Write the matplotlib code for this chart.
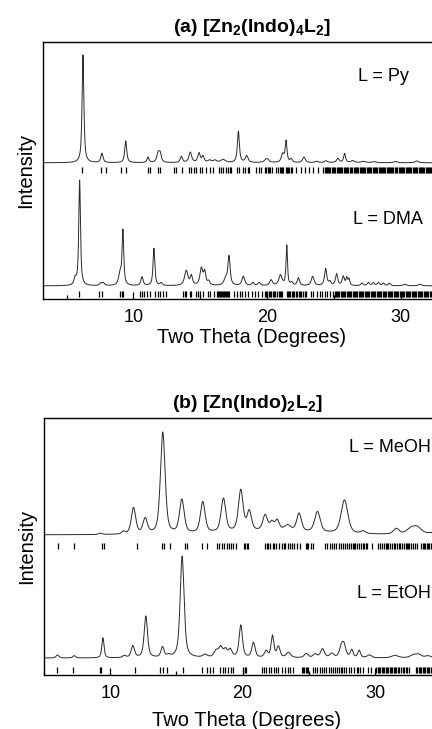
import numpy as np
import matplotlib
matplotlib.use('Agg')
import matplotlib.pyplot as plt
from matplotlib.ticker import MultipleLocator

plt.rcParams['font.family'] = ['Liberation Sans', 'DejaVu Sans']
plt.rcParams['mathtext.fontset'] = 'custom'
plt.rcParams['mathtext.rm'] = 'Liberation Sans'
plt.rcParams['mathtext.bf'] = 'Liberation Sans:bold'

## ---- (a) [Zn2(Indo)4L2] ----
# L = Py : peak position (2theta), height, fwhm
py_pos = [6.22, 7.64, 9.42, 11.09, 11.85, 12.0, 13.58, 14.25, 14.9, 15.2, 15.7, 16.1, 16.7,
          17.85, 18.47, 19.97, 21.17, 21.42, 21.8, 22.76, 23.7, 24.4, 25.3, 25.8, 26.4,
          27.2, 28.0, 29.6, 31.2]
py_hgt = [0.42, 0.036, 0.085, 0.021, 0.036, 0.03, 0.024, 0.04, 0.036, 0.024, 0.009, 0.009, 0.012,
          0.122, 0.026, 0.016, 0.032, 0.082, 0.013, 0.021, 0.005, 0.007, 0.016, 0.035, 0.008,
          0.005, 0.004, 0.005, 0.007]
py_fwhm = [0.16, 0.2, 0.18, 0.18, 0.25, 0.2, 0.2, 0.25, 0.22, 0.2, 0.3, 0.3, 0.4,
           0.18, 0.25, 0.35, 0.25, 0.16, 0.2, 0.25, 0.3, 0.3, 0.25, 0.18, 0.3,
           0.4, 0.4, 0.3, 0.3]
py_ticks = [6.17, 7.59, 7.96, 9.09, 9.46, 11.09, 11.26, 11.83, 12.0, 13.03, 13.2, 13.65, 14.15,
            14.32, 14.5, 14.69, 14.95, 15.14, 15.4, 15.7, 15.94, 16.37, 16.57, 16.69, 16.9,
            17.07, 17.22, 17.3, 17.72, 17.89, 18.22, 18.32, 18.6, 18.68, 19.15, 19.42, 19.52,
            19.84, 19.95, 20.05, 20.15, 20.25, 20.34, 20.64, 20.84, 20.94, 21.04, 21.13, 21.21,
            21.41, 21.5, 21.58, 21.67, 21.76, 21.84, 22.14, 22.52, 22.81, 23.14, 23.46, 23.81,
            24.21, 24.3, 24.38, 24.47, 24.55, 24.66, 24.74, 24.83, 24.92, 25.02, 25.1, 25.2,
            25.28, 25.37, 25.46, 25.55, 25.64, 25.72, 25.81, 25.9, 26.0, 26.08,
            26.22, 26.3, 26.39, 26.48, 26.56, 26.65, 26.74, 26.83, 26.92, 27.0, 27.08, 27.17,
            27.25, 27.33, 27.47, 27.55, 27.64, 27.73, 27.81, 27.9, 27.99, 28.07, 28.16, 28.25,
            28.34, 28.42, 28.51, 28.6, 28.68, 28.77, 28.86, 28.95, 29.03, 29.12, 29.2, 29.29,
            29.37, 29.45, 29.58, 29.67, 29.75, 29.84, 29.93, 30.02, 30.1, 30.19, 30.28, 30.36,
            30.45, 30.54, 30.63, 30.72, 30.8, 30.89, 30.98, 31.07, 31.16, 31.25, 31.33, 31.42,
            31.51, 31.6, 31.68, 31.77, 31.86, 31.95, 32.04, 32.12, 32.21, 32.3, 32.39, 32.48,
            32.57, 32.66, 32.74, 32.83, 32.92, 33.0, 33.1, 33.18, 33.27, 33.36, 33.45, 33.54,
            33.62, 33.71, 33.8, 33.88, 33.97, 34.06, 34.15, 34.24, 34.33, 34.42]

# L = DMA
dma_pos = [5.64, 5.97, 7.55, 7.75, 9.0, 9.21, 10.64, 11.53, 12.08, 13.95, 14.33, 15.08, 15.33,
           15.63, 16.9, 17.15, 18.22, 18.94, 19.4, 20.3, 21.0, 21.47, 21.85, 22.34, 23.41,
           24.38, 24.7, 25.2, 25.7, 25.96, 26.13, 27.1, 27.58, 27.95, 28.33, 28.7, 29.15,
           30.3, 31.44]
dma_hgt = [0.025, 0.41, 0.009, 0.011, 0.045, 0.21, 0.034, 0.145, 0.01, 0.058, 0.036, 0.066, 0.05,
           0.015, 0.025, 0.112, 0.036, 0.012, 0.012, 0.022, 0.04, 0.155, 0.011, 0.03, 0.036,
           0.066, 0.014, 0.045, 0.035, 0.028, 0.024, 0.01, 0.012, 0.011, 0.012, 0.01, 0.01,
           0.006, 0.006]
dma_fwhm = [0.2, 0.15, 0.2, 0.2, 0.25, 0.15, 0.2, 0.16, 0.2, 0.3, 0.2, 0.25, 0.2,
            0.2, 0.3, 0.2, 0.25, 0.2, 0.2, 0.25, 0.3, 0.13, 0.2, 0.2, 0.25,
            0.2, 0.2, 0.2, 0.2, 0.15, 0.15, 0.2, 0.2, 0.2, 0.2, 0.2, 0.2,
            0.3, 0.3]
dma_ticks = [5.94, 7.45, 7.65, 9.0, 9.12, 9.25, 10.5, 10.65, 10.82, 11.0, 11.2, 11.62, 11.8, 12.0,
             12.2, 12.4, 13.7, 13.82, 13.95, 14.2, 14.33, 14.7, 14.85, 15.0, 15.2, 15.6, 15.75,
             16.0, 16.23, 16.3, 16.38, 16.46, 16.54, 16.62, 16.7, 16.78, 16.86, 16.94, 17.02,
             17.1, 17.18, 17.5, 17.75, 17.95, 18.15, 18.35, 18.6, 18.85, 19.1, 19.35, 19.6,
             19.84, 19.93, 20.02, 20.11, 20.2, 20.32, 20.44, 20.53, 20.62, 20.74, 20.86, 20.95,
             21.05, 21.15, 21.47, 21.56, 21.65, 21.74, 21.83, 21.95, 22.05, 22.14, 22.25, 22.36,
             22.45, 22.55, 22.7, 22.8, 22.9, 23.3, 23.45, 23.7, 23.96, 24.08, 24.3, 24.5, 24.7,
             24.96, 25.05, 25.14, 25.23, 25.32, 25.41, 25.5, 25.59, 25.68, 25.77, 25.86, 25.95,
             26.04, 26.13, 26.22, 26.31, 26.4, 26.49, 26.58, 26.67, 26.76, 26.85, 26.94, 27.03,
             27.12, 27.21, 27.3, 27.39, 27.48, 27.57, 27.66, 27.75, 27.84, 27.93, 28.02, 28.11,
             28.2, 28.29, 28.38, 28.47, 28.56, 28.65, 28.74, 28.83, 28.92, 29.01, 29.1, 29.19,
             29.28, 29.37, 29.46, 29.55, 29.64, 29.73, 29.82, 29.91, 30.0, 30.09, 30.18, 30.27,
             30.36, 30.45, 30.54, 30.63, 30.72, 30.81, 30.9, 30.99, 31.08, 31.17, 31.26, 31.35,
             31.44, 31.53, 31.62, 31.71, 31.8, 31.89, 31.98, 32.07, 32.16, 32.25, 32.34, 32.43,
             32.52, 32.61, 32.7, 32.79, 32.88, 32.97, 33.06, 33.15, 33.24, 33.33, 33.42, 33.51,
             33.6, 33.69, 33.78, 33.87, 33.96, 34.05, 34.14, 34.23, 34.32, 34.41]

## ---- (b) [Zn(Indo)2L2] ----
# L = MeOH (last entry: broad amorphous hump under the pattern)
meoh_pos = [9.25, 11.0, 11.76, 12.64, 13.97, 15.41, 16.99, 18.55, 19.86, 20.5, 21.7, 22.2,
            22.6, 23.4, 24.26, 25.65, 27.69, 29.1, 31.6, 32.7, 33.2, 34.2, 22.0]
meoh_hgt = [0.005, 0.01, 0.102, 0.058, 0.395, 0.13, 0.12, 0.13, 0.16, 0.075, 0.06, 0.03,
            0.04, 0.022, 0.07, 0.08, 0.13, 0.01, 0.022, 0.02, 0.025, 0.006, 0.014]
meoh_fwhm = [0.3, 0.3, 0.4, 0.4, 0.42, 0.42, 0.42, 0.42, 0.42, 0.4, 0.42, 0.35,
             0.4, 0.6, 0.42, 0.5, 0.6, 0.4, 0.5, 0.8, 0.8, 0.6, 9.0]
meoh_ticks = [6.02, 7.23, 9.37, 9.5, 12.01, 13.9, 14.08, 14.53, 15.66, 15.79, 16.92, 17.34,
              18.05, 18.25, 18.45, 18.6, 18.8, 18.95, 19.1, 19.3, 19.5, 20.1, 20.2, 20.3, 20.42,
              21.7, 21.85, 21.95, 22.1, 22.3, 22.4, 22.55, 22.75, 22.95, 23.1, 23.2, 23.4, 23.6,
              23.75, 23.9, 24.1, 24.3, 24.75, 24.85, 24.95, 25.2, 25.3,
              26.25, 26.4, 26.6, 26.75, 26.9, 27.05, 27.3, 27.45, 27.6, 27.75, 27.85, 28.0,
              28.15, 28.3, 28.4, 28.5, 28.6, 28.8, 28.95, 29.1, 29.2, 29.3, 29.4, 29.75,
              30.25, 30.4, 30.55, 30.65, 30.8, 30.9, 31.0, 31.15, 31.3, 31.4, 31.5, 31.65, 31.8,
              31.9, 32.0, 32.15, 32.3, 32.4, 32.5, 32.6, 32.75, 32.9, 33.0, 33.15,
              33.5, 33.6, 33.7, 33.8, 33.9, 34.0, 34.1, 34.2, 34.3, 34.4]

# L = EtOH
etoh_pos = [6.02, 7.28, 9.45, 11.06, 11.71, 12.69, 13.95, 14.4, 15.43, 17.17, 18.0, 18.35,
            18.7, 19.06, 19.86, 20.82, 21.77, 22.25, 22.7, 23.46, 24.8, 25.47, 26.03, 26.73,
            27.45, 27.65, 28.24, 28.8, 29.57, 31.5, 32.9, 33.3, 34.0]
etoh_hgt = [0.012, 0.009, 0.078, 0.008, 0.046, 0.162, 0.04, 0.008, 0.395, 0.011, 0.025, 0.038,
            0.028, 0.03, 0.126, 0.058, 0.025, 0.085, 0.042, 0.02, 0.016, 0.014, 0.034, 0.016,
            0.036, 0.045, 0.03, 0.028, 0.011, 0.01, 0.011, 0.012, 0.008]
etoh_fwhm = [0.25, 0.25, 0.2, 0.3, 0.3, 0.3, 0.28, 0.3, 0.35, 0.4, 0.4, 0.35,
             0.3, 0.35, 0.3, 0.3, 0.3, 0.25, 0.3, 0.4, 0.35, 0.35, 0.35, 0.35,
             0.35, 0.35, 0.25, 0.25, 0.4, 0.6, 0.6, 0.5, 0.5]
etoh_ticks = [5.98, 7.18, 9.25, 9.32, 11.89, 13.77, 13.95, 14.28, 15.46, 16.92, 17.3, 17.55,
              17.8, 18.3, 18.5, 18.7, 18.9, 19.1, 19.3, 20.06, 20.16, 20.26,
              21.45, 21.6, 21.8, 22.0, 22.15, 22.35, 22.5, 22.7, 23.0, 23.2, 23.4, 23.6, 23.84,
              24.47, 24.57, 24.67, 24.77, 24.87, 24.97,
              25.3, 25.5, 25.65, 25.85, 26.0, 26.15, 26.3, 26.55, 26.7, 26.85, 27.0, 27.1,
              27.25, 27.4, 27.5, 27.65, 27.8, 28.0, 28.15, 28.4, 28.6, 28.75, 28.9, 29.1,
              29.45, 29.73, 30.1, 30.2, 30.3, 30.4, 30.5, 30.6, 30.7, 30.8, 30.9, 31.0, 31.1,
              31.2, 31.3, 31.4, 31.5, 31.6, 31.7, 31.8, 31.95, 32.1, 32.2, 32.3, 32.45, 32.6,
              33.1, 33.2, 33.3, 33.4, 33.5, 33.6, 33.7, 33.8, 33.9, 34.0, 34.1, 34.2, 34.3, 34.4]


def pattern(x, pos, hgt, fwhm, eta):
    # pseudo-Voigt sum, peak heights
    y = np.zeros_like(x)
    for p, h, w in zip(pos, hgt, fwhm):
        u = (x - p) / w
        y += h * (eta / (1 + 4 * u**2) + (1 - eta) * np.exp(-4 * np.log(2) * u**2))
    return y


lineCol = '#2a2a2a'
fs = 14.5

fig = plt.figure(figsize=(4.32, 7.29), dpi=100)

def setup(ax, xlim, xpad):
    ax.set_xlim(*xlim)
    ax.set_ylim(0, 1)
    ax.set_yticks([])
    ax.xaxis.set_major_locator(MultipleLocator(10))
    ax.xaxis.set_minor_locator(MultipleLocator(5))
    ax.tick_params(axis='x', which='major', direction='in', length=5, width=0.9, labelsize=13, pad=7)
    ax.tick_params(axis='x', which='minor', direction='in', length=3, width=0.9)
    for s in ax.spines.values():
        s.set_linewidth(1.0)
    ax.set_xlabel('Two Theta (Degrees)', fontsize=fs, labelpad=xpad)
    ax.set_ylabel('Intensity', fontsize=fs, labelpad=6)

# panel (a)
axA = fig.add_axes([43/432, (729-299)/729, (461-43)/432, 257/729])
setup(axA, (3.23, 34.51), 1.5)
xa = np.linspace(3.2, 34.6, 4000)
axA.plot(xa, 0.530 + pattern(xa, py_pos, py_hgt, py_fwhm, 0.8), color=lineCol, lw=0.7)
axA.plot(xa, 0.051 + pattern(xa, dma_pos, dma_hgt, dma_fwhm, 0.8), color=lineCol, lw=0.7)
axA.vlines(py_ticks, 0.49, 0.512, color='k', lw=0.9)
axA.vlines(dma_ticks, 0.009, 0.031, color='k', lw=0.9)
axA.text(26.8, 0.864, 'L = Py', fontsize=13, va='center', ha='left')
axA.text(26.43, 0.311, 'L = DMA', fontsize=13, va='center', ha='left')
axA.set_title(r'(a) [Zn$_{\mathbf{2}}$(Indo)$_{\mathbf{4}}$L$_{\mathbf{2}}$]',
              fontsize=14, fontweight='bold', pad=7)

# panel (b)
axB = fig.add_axes([44/432, (729-675)/729, (450-44)/432, 257/729])
setup(axB, (5.0, 35.66), 6.5)
xb = np.linspace(5.0, 35.7, 4000)
axB.plot(xb, 0.545 + pattern(xb, meoh_pos, meoh_hgt, meoh_fwhm, 0.5), color=lineCol, lw=0.7)
axB.plot(xb, 0.066 + pattern(xb, etoh_pos, etoh_hgt, etoh_fwhm, 0.6), color=lineCol, lw=0.7)
axB.vlines(meoh_ticks, 0.49, 0.512, color='k', lw=0.9)
axB.vlines(etoh_ticks, 0.009, 0.031, color='k', lw=0.9)
axB.text(34.2, 0.886, 'L = MeOH', fontsize=13, va='center', ha='right')
axB.text(34.2, 0.318, 'L = EtOH', fontsize=13, va='center', ha='right')
axB.set_title(r'(b) [Zn(Indo)$_{\mathbf{2}}$L$_{\mathbf{2}}$]',
              fontsize=14, fontweight='bold', pad=7)

fig.savefig('out.png', dpi=100)
